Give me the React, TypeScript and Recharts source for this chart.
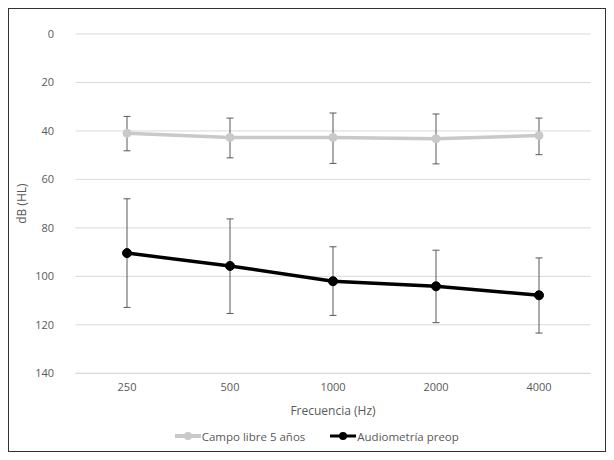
import React from 'react';
import { LineChart, Line, XAxis, YAxis, CartesianGrid, ErrorBar, Legend } from 'recharts';

const frequencies = ['250', '500', '1000', '2000', '4000'];

const campoLibre = [41, 42.7, 42.7, 43.2, 41.9];
const campoLow = [34, 34.7, 32.6, 33, 34.7];
const campoHigh = [48.2, 51.1, 53.4, 53.6, 49.8];

const audiometria = [90.4, 95.7, 102, 104.1, 107.8];
const audioLow = [68, 76.3, 87.8, 89.2, 92.4];
const audioHigh = [112.8, 115.3, 116.1, 119.1, 123.4];

const yTicks = [0, 20, 40, 60, 80, 100, 120, 140];

const data = frequencies.map((freq, i) => ({
  freq,
  campo: campoLibre[i],
  campoErr: [campoLibre[i] - campoLow[i], campoHigh[i] - campoLibre[i]],
  audio: audiometria[i],
  audioErr: [audiometria[i] - audioLow[i], audioHigh[i] - audiometria[i]],
}));

const FONT = '"Open Sans", sans-serif';
const TEXT = '#595959';
const GRAY = '#c9c9c9';

function LegendContent() {
  const items = [
    { label: 'Campo libre 5 años', color: GRAY, width: 4 },
    { label: 'Audiometría preop', color: '#000', width: 3 },
  ];
  return (
    <div style={{ height: 24, display: 'flex', justifyContent: 'center', alignItems: 'center', gap: 25, paddingLeft: 34 }}>
      {items.map((it) => (
        <div key={it.label} style={{ display: 'flex', alignItems: 'center' }}>
          <svg width={26} height={12}>
            <line x1={0} y1={6} x2={26} y2={6} stroke={it.color} strokeWidth={it.width} />
            <circle cx={13} cy={6} r={4} fill={it.color} />
          </svg>
          <span style={{ fontFamily: FONT, fontSize: 11.5, color: TEXT, marginLeft: 1 }}>{it.label}</span>
        </div>
      ))}
    </div>
  );
}

export default function App() {
  return (
    <div style={{ width: 596, height: 442, border: '1px solid #333', background: '#fff' }}>
      <LineChart width={596} height={442} data={data} margin={{ top: 25, right: 14.5, bottom: 3, left: 0 }}>
        <CartesianGrid vertical={false} stroke="#d9d9d9" />
        <XAxis
          dataKey="freq"
          padding={{ left: 51.5, right: 51.5 }}
          axisLine={{ stroke: '#d9d9d9' }}
          tickLine={false}
          tickSize={0}
          tickMargin={10}
          height={50.7}
          tick={{ fill: TEXT, fontSize: 11, fontFamily: FONT }}
          label={{ value: 'Frecuencia (Hz)', position: 'insideBottom', offset: 8.7, fill: TEXT, fontSize: 12, fontFamily: FONT }}
        />
        <YAxis
          reversed
          domain={[0, 140]}
          ticks={yTicks}
          width={66.5}
          axisLine={false}
          tickLine={false}
          tickSize={0}
          tickMargin={21.5}
          tick={{ fill: TEXT, fontSize: 11, fontFamily: FONT }}
          label={{ value: 'dB (HL)', angle: -90, position: 'insideLeft', offset: 13, fill: TEXT, fontSize: 12, fontFamily: FONT, style: { textAnchor: 'middle' } }}
        />
        <Legend verticalAlign="bottom" content={<LegendContent />} />
        <Line
          dataKey="campo"
          name="Campo libre 5 años"
          stroke={GRAY}
          strokeWidth={3.5}
          dot={{ r: 4, fill: GRAY, stroke: GRAY, strokeWidth: 1 }}
          isAnimationActive={false}
        >
          <ErrorBar dataKey="campoErr" width={3.5} stroke="#595959" strokeWidth={1} />
        </Line>
        <Line
          dataKey="audio"
          name="Audiometría preop"
          stroke="#000"
          strokeWidth={3.5}
          dot={{ r: 4.5, fill: '#000', stroke: '#000', strokeWidth: 1 }}
          isAnimationActive={false}
        >
          <ErrorBar dataKey="audioErr" width={3.5} stroke="#595959" strokeWidth={1} />
        </Line>
      </LineChart>
    </div>
  );
}
